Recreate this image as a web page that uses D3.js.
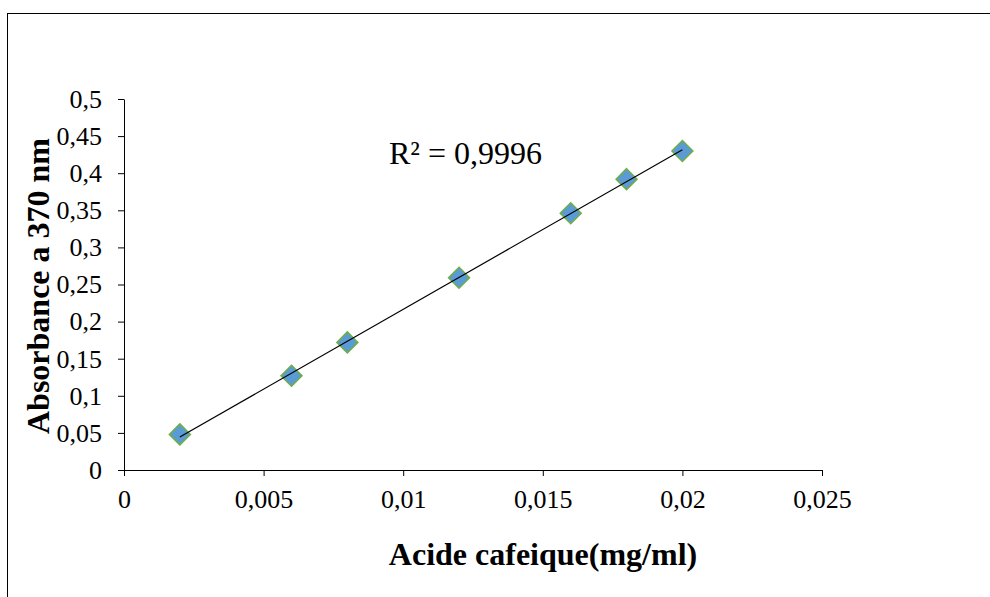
<!DOCTYPE html>
<html><head><meta charset="utf-8">
<script src="https://cdn.jsdelivr.net/npm/d3@7"></script>
<style>body{margin:0;background:#fff}svg{display:block}</style>
</head><body>
<script>
const xValues = [0.002, 0.006, 0.008, 0.012, 0.016, 0.018, 0.02];
const yValues = [0.048, 0.127, 0.172, 0.259, 0.346, 0.392, 0.430];
const xTicks = [0, 0.005, 0.01, 0.015, 0.02, 0.025];
const yTicks = [0, 0.05, 0.1, 0.15, 0.2, 0.25, 0.3, 0.35, 0.4, 0.45, 0.5];
const r2Label = "R² = 0,9996";
const xTitle = "Acide cafeique(mg/ml)";
const yTitle = "Absorbance a 370 nm";

const W = 990, H = 597;
const svg = d3.select("body").append("svg").attr("width", W).attr("height", H);
svg.append("rect").attr("x", 7.5).attr("y", 13.5).attr("width", 1000).attr("height", 700)
  .attr("fill", "#fff").attr("stroke", "#000").attr("stroke-width", 1);

const x = d3.scaleLinear().domain([0, 0.025]).range([124, 822]);
const y = d3.scaleLinear().domain([0, 0.5]).range([470, 99]);
const fmt = d => String(+d.toFixed(4)).replace(".", ",");
const font = "'Liberation Serif','Times New Roman',serif";

const gx = svg.append("g").attr("transform", "translate(0,470)")
  .call(d3.axisBottom(x).tickValues(xTicks).tickFormat(fmt).tickSize(6).tickPadding(14).tickSizeOuter(0));
const gy = svg.append("g").attr("transform", "translate(124,0)")
  .call(d3.axisLeft(y).tickValues(yTicks).tickFormat(fmt).tickSize(6).tickPadding(16).tickSizeOuter(0));
[gx, gy].forEach(g => {
  g.attr("font-family", font).attr("font-size", 26);
  g.selectAll("path,line").attr("stroke", "#000").attr("stroke-width", 1);
  g.selectAll("text").attr("fill", "#000");
});

const sym = d3.symbol().type(d3.symbolDiamond2).size(280);
svg.append("g").selectAll("path").data(xValues).join("path")
  .attr("d", sym)
  .attr("transform", (d, i) => `translate(${x(d)},${y(yValues[i])})`)
  .attr("fill", "#5B9BD5").attr("stroke", "#70AD47").attr("stroke-width", 1.5);

// linear regression trendline (drawn over markers)
const n = xValues.length;
const mx = d3.mean(xValues), my = d3.mean(yValues);
let sxy = 0, sxx = 0;
for (let i = 0; i < n; i++) { sxy += (xValues[i]-mx)*(yValues[i]-my); sxx += (xValues[i]-mx)**2; }
const slope = sxy / sxx, icpt = my - slope * mx;
const x0 = d3.min(xValues), x1 = d3.max(xValues);
svg.append("line").attr("x1", x(x0)).attr("y1", y(icpt + slope*x0))
  .attr("x2", x(x1)).attr("y2", y(icpt + slope*x1)).attr("stroke", "#000").attr("stroke-width", 1.2);

svg.append("text").attr("x", 389).attr("y", 164).attr("font-family", font)
  .attr("font-size", 32).attr("fill", "#000").text(r2Label);

svg.append("text").attr("x", 543).attr("y", 565).attr("text-anchor", "middle")
  .attr("font-family", font).attr("font-weight", "bold").attr("font-size", 32).text(xTitle);
svg.append("text").attr("transform", "translate(49,286) rotate(-90)").attr("text-anchor", "middle")
  .attr("font-family", font).attr("font-weight", "bold").attr("font-size", 32).text(yTitle);
</script>
</body></html>
